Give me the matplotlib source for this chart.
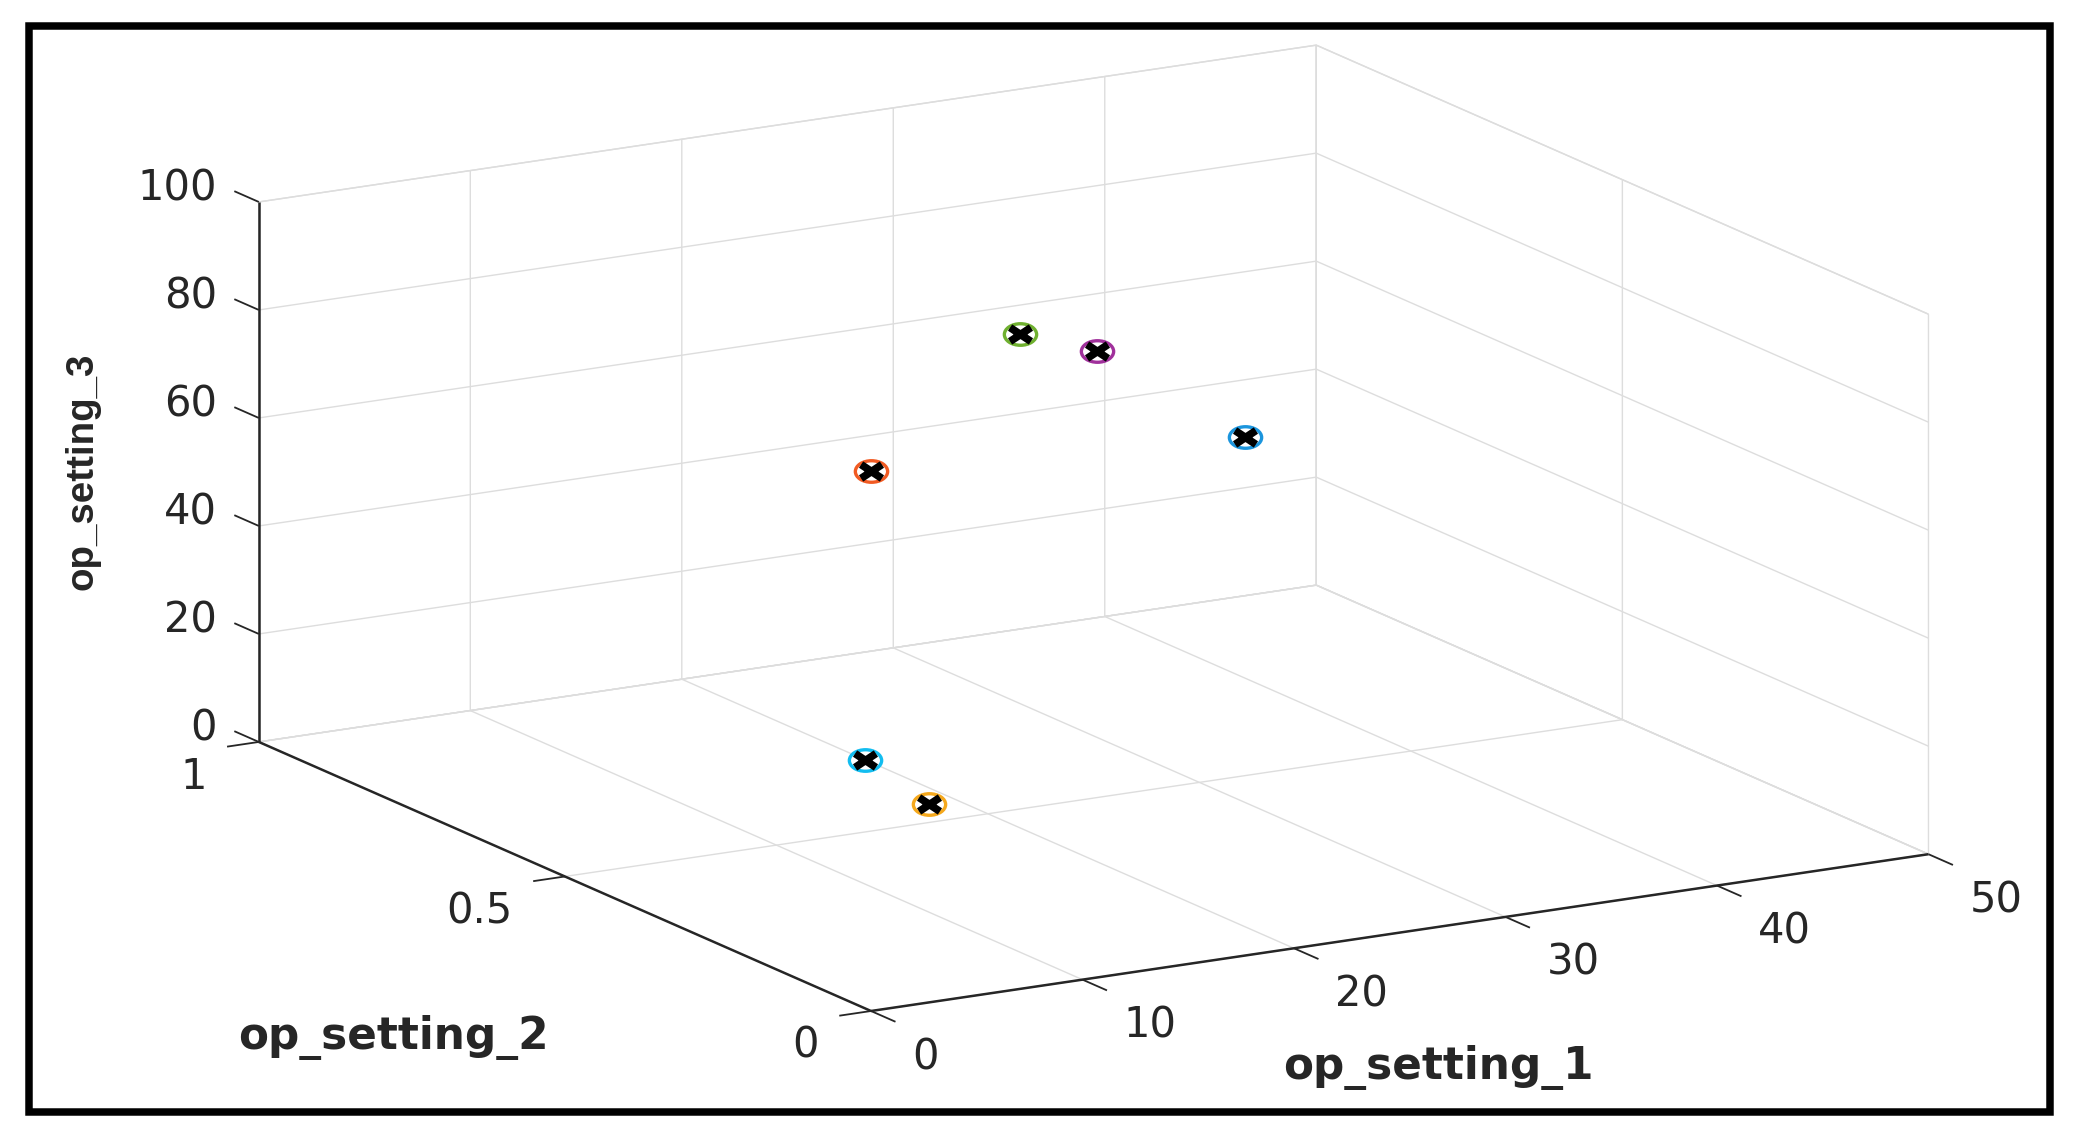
import matplotlib
matplotlib.use('Agg')
import matplotlib.pyplot as plt
import numpy as np
from matplotlib.markers import MarkerStyle
from matplotlib.patches import Rectangle
from matplotlib.path import Path
from matplotlib.transforms import Affine2D
from mpl_toolkits.mplot3d import proj3d

# operating conditions
op_setting_1 = [0, 10, 20, 25, 35, 42]
op_setting_2 = [0, 0.25, 0.7, 0.62, 0.84, 0.84]
op_setting_3 = [100, 20, 0, 80, 60, 40]
point_colors = ['#F15A22', '#F5A81C', '#12BDF0', '#6FB02F', '#A0309B', '#1B95DD']

x_ticks = [0, 10, 20, 30, 40, 50]
y_ticks = [0, 0.5, 1]
z_ticks = [0, 20, 40, 60, 80, 100]
y_tick_labels = ['0', '0.5', '1']

W, H = 2075, 1141
GRID = '#dddddd'
DARK = '#262626'
BOX = (1, 0.9967, 0.4567)

plt.rcParams['grid.color'] = GRID
plt.rcParams['grid.linewidth'] = 1.0

fig = plt.figure(figsize=(W / 100, H / 100), dpi=100, facecolor='white')
ax = fig.add_subplot(projection='3d', proj_type='ortho', computed_zorder=False)
ax.view_init(elev=14.79, azim=-120.15)
ax.patch.set_visible(False)

ax.set_xticks(x_ticks)
ax.set_yticks(y_ticks)
ax.set_zticks(z_ticks)
for axis in (ax.xaxis, ax.yaxis, ax.zaxis):
    axis.set_ticklabels([])
    axis.set_pane_color('white')
    axis.pane.set_edgecolor(GRID)
    axis.pane.set_linewidth(1.0)
    axis.line.set_color((0, 0, 0, 0))
    axis._axinfo['tick']['inward_factor'] = 0
    axis._axinfo['tick']['outward_factor'] = 0

# the three black axis lines and their ticks
line_kw = dict(color=DARK, lw=1.8, zorder=3, solid_capstyle='butt')
tick_kw = dict(color=DARK, lw=1.3, zorder=3, solid_capstyle='butt')
ax.plot([0, 50], [0, 0], [0, 0], **line_kw)
ax.plot([0, 0], [0, 1], [0, 0], **line_kw)
ax.plot([0, 0], [1, 1], [0, 100], **line_kw)
for x in x_ticks:
    ax.plot([x, x], [0, -0.04], [0, 0], **tick_kw)
for y in y_ticks:
    ax.plot([0, -1.5], [y, y], [0, 0], **tick_kw)
for z in z_ticks:
    ax.plot([0, 0], [1, 1.04], [z, z], **tick_kw)

# picture is stretched sideways, so the markers are ellipses
stretch = Affine2D().scale(1.5, 1)
ring = MarkerStyle(Path.unit_circle(), transform=stretch)
cross = MarkerStyle(Path([(-1, -1), (1, 1), (-1, 1), (1, -1)],
                         [Path.MOVETO, Path.LINETO, Path.MOVETO, Path.LINETO]), transform=stretch)
for x, y, z, c in zip(op_setting_1, op_setting_2, op_setting_3, point_colors):
    ax.plot([x], [y], [z], ls='none', marker=ring, ms=15.5, mfc='white', mec=c, mew=2.4, zorder=5)
    ax.plot([x], [y], [z], ls='none', marker=cross, ms=10, mfc='none', mec='black', mew=5.5, zorder=6)

ax.set_xlim(0, 50, view_margin=0)
ax.set_ylim(0, 1, view_margin=0)
ax.set_zlim(0, 100, view_margin=0)


def to_2d(x, y, z):
    px, py, _ = proj3d.proj_transform(x, y, z, ax.get_proj())
    return px, py


def to_px(x, y, z):
    # pixel position of a data point, y measured from the top of the image
    p = ax.transData.transform(to_2d(x, y, z))
    return p[0], H - p[1]


# fit the box on the reference: origin at (871, 1011), z axis 540 px long
side = 2600
left, bottom = (W - side) / 2, (H - side) / 2
zoom = 1.0
for i in range(4):
    ax.set_box_aspect(BOX, zoom=zoom)
    ax.set_position([left / W, bottom / H, side / W, side / H])
    ax.apply_aspect()
    ox, oy = to_px(0, 0, 0)
    tx, ty = to_px(0, 0, 100)
    zoom *= 540 / abs(oy - ty)
    left += 871 - ox
    bottom -= 1011 - oy

ax.set_box_aspect(BOX, zoom=zoom)
ax.set_position([left / W, bottom / H, side / W, side / H])
ax.apply_aspect()


def tick_label(text, point, offset, ha):
    ax.annotate(text, xy=to_2d(*point), xycoords='data', xytext=offset, textcoords='offset pixels',
                ha=ha, va='center', fontsize=30, color=DARK)


for x in x_ticks:
    tick_label(str(x), (x, 0, 0), (41, -46), 'left')
for y, lab in zip(y_ticks, y_tick_labels):
    tick_label(lab, (0, y, 0), (-52, -35), 'right')
for z in z_ticks:
    tick_label(str(z), (0, 1, z), (-42, 13), 'right')

fig.text(1438 / W, 1 - 1068 / H, 'op_setting_1', ha='center', va='center', fontsize=31.5, fontweight='bold', color=DARK)
fig.text(393 / W, 1 - 1037 / H, 'op_setting_2', ha='center', va='center', fontsize=31.5, fontweight='bold', color=DARK)
fig.text(83 / W, 1 - 471 / H, 'op_setting_3', ha='center', va='center', rotation=90, fontsize=27.7,
         fontweight='bold', color=DARK, family='Liberation Sans')

fig.add_artist(Rectangle((29 / W, 1 - 1112 / H), (2050 - 29) / W, (1112 - 25.5) / H, transform=fig.transFigure,
                         fill=False, edgecolor='black', lw=5.4, joinstyle='miter'))

fig.savefig('out.png', dpi=100)
